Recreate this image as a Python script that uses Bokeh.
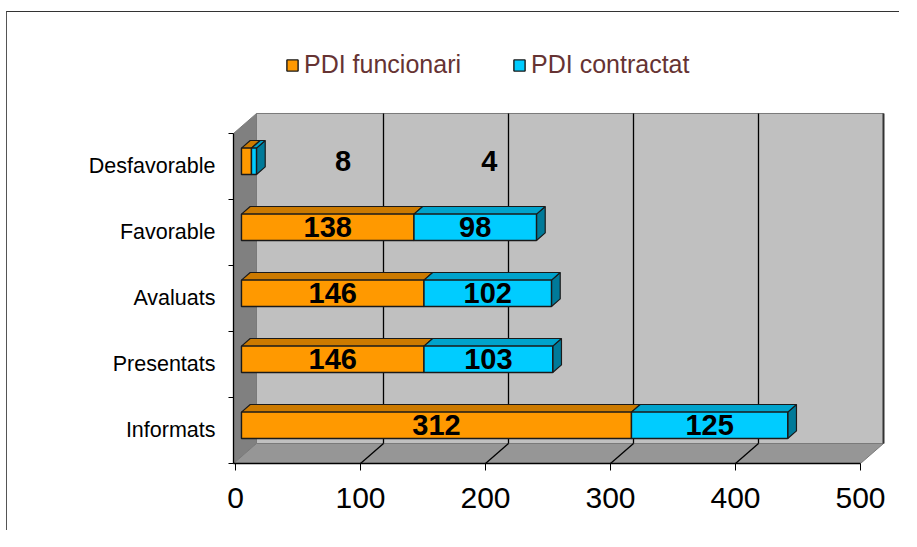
from bokeh.plotting import figure
from bokeh.models import ColumnDataSource, FixedTicker, Legend, LegendItem, Range1d
from bokeh.embed import file_html
from bokeh.resources import INLINE
from bokeh.core.properties import value

# ---- data ----
categories = ["Informats", "Presentats", "Avaluats", "Favorable", "Desfavorable"]
funcionari = [312, 146, 146, 138, 8]
contractat = [125, 103, 102, 98, 4]
series_names = ["PDI funcionari", "PDI contractat"]
x_ticks = [0, 100, 200, 300, 400, 500]
# Excel shows the labels of the tiny "Desfavorable" segments pushed to the right
desf_label_x = [86, 203]

# ---- style ----
FONT = "Liberation Sans"
DX, DY = 18.4, 0.303        # depth of the 3-D box, data units
F0, F1 = 0.26, 0.64         # front / back depth fraction of the bars
HALF = 0.2                  # half bar thickness (category units)
X0 = -1.6                   # left wall front edge
FRONT = {"PDI funcionari": "#FF9900", "PDI contractat": "#00CCFF"}
TOP = {"PDI funcionari": "#CC7A00", "PDI contractat": "#00A3CC"}
SIDE = {"PDI funcionari": "#995C00", "PDI contractat": "#007A99"}

ncat = len(categories)
ylo, yhi = -0.5, ncat - 0.5

p = figure(width=893, height=519, output_backend="svg", toolbar_location=None,
           x_range=Range1d(X0, 529.6), y_range=Range1d(-0.5, 6.212),
           min_border_left=226, min_border_right=3, min_border_top=8,
           min_border_bottom=68)
p.outline_line_color = None
p.xgrid.visible = False
p.ygrid.visible = False
p.background_fill_color = "white"
p.border_fill_color = "white"
p.styles = {"border-left": "1px solid #555555", "border-top": "1px solid #333333",
            "margin-left": "6px", "margin-top": "11px"}

# ---- walls ----
walls = ColumnDataSource(dict(
    xs=[[X0, X0, X0 + DX, X0 + DX],
        [X0 + DX, x_ticks[-1] + DX, x_ticks[-1] + DX, X0 + DX],
        [X0, x_ticks[-1], x_ticks[-1] + DX, X0 + DX]],
    ys=[[ylo, yhi, yhi + DY, ylo + DY],
        [ylo + DY, ylo + DY, yhi + DY, yhi + DY],
        [ylo, ylo, ylo + DY, ylo + DY]],
    color=["#808080", "#C0C0C0", "#969696"],
))
p.patches("xs", "ys", source=walls, fill_color="color", line_color="#7a7a7a", line_width=1)
# darker right edge of back wall
p.segment(x0=[x_ticks[-1] + DX], y0=[ylo + DY], x1=[x_ticks[-1] + DX], y1=[yhi + DY],
          line_color="#333333", line_width=2)

# gridlines on back wall and floor
gx = x_ticks[1:-1]
p.segment(x0=[v + DX for v in gx], y0=[ylo + DY] * len(gx),
          x1=[v + DX for v in gx], y1=[yhi + DY] * len(gx), line_color="black", line_width=1.3)
p.segment(x0=gx, y0=[ylo] * len(gx), x1=[v + DX for v in gx], y1=[ylo + DY] * len(gx),
          line_color="black", line_width=1.3)

# ---- bars ----
legend_items = []
starts = [0] * ncat
for name, vals in zip(series_names, [funcionari, contractat]):
    s = starts
    e = [a + b for a, b in zip(s, vals)]
    fx0 = [a + F0 * DX for a in s]
    fx1 = [a + F0 * DX for a in e]
    bx0 = [a + F1 * DX for a in s]
    bx1 = [a + F1 * DX for a in e]
    yb0 = [c + F0 * DY - HALF for c in range(ncat)]
    yt0 = [c + F0 * DY + HALF for c in range(ncat)]
    yb1 = [c + F1 * DY - HALF for c in range(ncat)]
    yt1 = [c + F1 * DY + HALF for c in range(ncat)]
    top_src = ColumnDataSource(dict(
        xs=[[fx0[i], fx1[i], bx1[i], bx0[i]] for i in range(ncat)],
        ys=[[yt0[i], yt0[i], yt1[i], yt1[i]] for i in range(ncat)]))
    side_src = ColumnDataSource(dict(
        xs=[[fx1[i], bx1[i], bx1[i], fx1[i]] for i in range(ncat)],
        ys=[[yb0[i], yb1[i], yt1[i], yt0[i]] for i in range(ncat)]))
    p.patches("xs", "ys", source=side_src, fill_color=SIDE[name], line_color="#1a1a1a", line_width=1.2)
    p.patches("xs", "ys", source=top_src, fill_color=TOP[name], line_color="#1a1a1a", line_width=1.2)
    r = p.quad(left=fx0, right=fx1, bottom=yb0, top=yt0, fill_color=FRONT[name],
               line_color="#1a1a1a", line_width=1.4)
    legend_items.append(LegendItem(label=name, renderers=[r]))
    starts = e

# ---- value labels ----
lab_x, lab_y, lab_t = [], [], []
base = [0] * ncat
for k, vals in enumerate([funcionari, contractat]):
    for i in range(ncat):
        if categories[i] == "Desfavorable":
            lab_x.append(desf_label_x[k])
        else:
            lab_x.append(base[i] + vals[i] / 2 + F0 * DX)
        lab_y.append(i + F0 * DY)
        lab_t.append(str(vals[i]))
    base = [a + b for a, b in zip(base, vals)]
p.text(x=lab_x, y=lab_y, text=lab_t, text_font=value(FONT), text_font_style="bold",
       text_font_size="29px", text_align="center", text_baseline="middle", text_color="black")

# ---- axes ----
p.xaxis.ticker = FixedTicker(ticks=x_ticks)
p.xaxis.bounds = (X0, x_ticks[-1])
p.xaxis.axis_line_color = "black"
p.xaxis.axis_line_width = 1.3
p.xaxis.major_tick_out = 7
p.xaxis.major_tick_in = 0
p.xaxis.minor_tick_line_color = None
p.xaxis.major_label_text_font = FONT
p.xaxis.major_label_text_font_size = "30px"
p.xaxis.major_label_text_color = "black"
p.xaxis.major_label_standoff = 17

p.yaxis.ticker = FixedTicker(ticks=list(range(ncat)),
                             minor_ticks=[c - 0.5 for c in range(ncat + 1)])
p.yaxis.bounds = (ylo, yhi)
p.yaxis.major_label_overrides = {i: c for i, c in enumerate(categories)}
p.yaxis.axis_line_color = "black"
p.yaxis.axis_line_width = 1.3
p.yaxis.major_tick_line_color = None
p.yaxis.major_tick_out = 0
p.yaxis.major_tick_in = 0
p.yaxis.minor_tick_out = 5
p.yaxis.minor_tick_in = 0
p.yaxis.minor_tick_line_color = "black"
p.yaxis.major_label_text_font = FONT
p.yaxis.major_label_text_font_size = "21.5px"
p.yaxis.major_label_text_color = "black"
p.yaxis.major_label_standoff = 13

# ---- legend ----
legend = Legend(items=legend_items, orientation="horizontal", location=(52, 384),
                glyph_width=14, glyph_height=14, label_standoff=5, spacing=51,
                padding=0, margin=0, background_fill_alpha=0, border_line_alpha=0,
                label_text_font=FONT, label_text_font_size="25px",
                label_text_color="#663333")
p.add_layout(legend)

open("out.html", "w").write(file_html(p, INLINE))
